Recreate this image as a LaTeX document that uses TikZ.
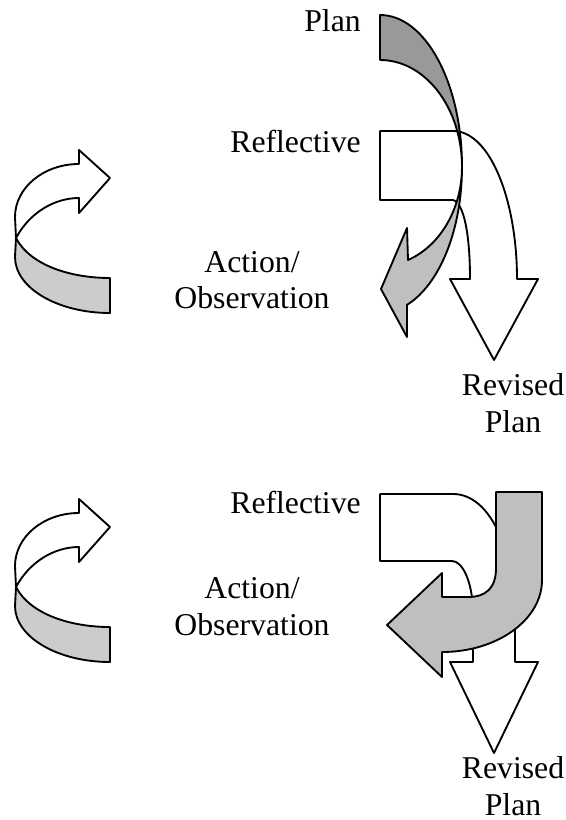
\documentclass[tikz,border=0pt]{standalone}
\usepackage{fontspec}
\setmainfont{Liberation Serif}
\definecolor{bandDark}{gray}{0.6}
\definecolor{bandLight}{gray}{0.75}
\definecolor{bandPale}{gray}{0.8}
\begin{document}
\begin{tikzpicture}[x=0.75pt,y=0.75pt,yscale=-1]
		\tikzstyle{band}=[draw=black,line width=1.4pt,line join=round]
		\tikzstyle{lbl}=[inner sep=0pt,font=\fontsize{23.8}{28}\selectfont]
		\useasboundingbox (0,0) rectangle (566,820);

		% labels
		\node[lbl,anchor=base east] (plan) at (361,32)  {Plan};
		\node[lbl,anchor=base east] (refl1) at (361,152) {Reflective};
		\node[lbl,anchor=base] (act1) at (252,272) {Action/};
		\node[lbl,anchor=base] (obs1) at (252,308) {Observation};
		\node[lbl,anchor=base] (rev1) at (513,395) {Revised};
		\node[lbl,anchor=base] (rplan1) at (513,432) {Plan};
		\node[lbl,anchor=base east] (refl2) at (361,513) {Reflective};
		\node[lbl,anchor=base] (act2) at (252,598) {Action/};
		\node[lbl,anchor=base] (obs2) at (252,635) {Observation};
		\node[lbl,anchor=base] (rev2) at (513,778) {Revised};
		\node[lbl,anchor=base] (rplan2) at (513,815) {Plan};

		% left curl arrows
		\foreach \dy in {0,349} {
		\begin{scope}[shift={(0,\dy)}]
		\path[band,fill=bandPale] (16,238) -- (15,257)
		  arc[start angle=180,end angle=90,x radius=95,y radius=56]
		  -- (110,278) .. controls (70,278) and (30,265) .. (16,238);
		\path[band,fill=white] (79,164)
		  arc[start angle=-90,end angle=-180,x radius=64,y radius=53]
		  -- (16,238) .. controls (30,212) and (55,198) .. (79,198)
		  -- (79,213) -- (110,178) -- (79,150) -- cycle;
		\end{scope}
		}

		% first cycle
		\path[band,fill=white] (380,131) -- (453,131)
		  .. controls (490,131) and (517,200) .. (517,279)
		  -- (538,279) -- (494,360) -- (450,279) -- (470,279)
		  .. controls (470,235) and (464,203) .. (453,200)
		  -- (380,200) -- cycle;
		\path[band,fill=bandLight] (462,167)
		  arc[start angle=0,end angle=70.8,x radius=82,y radius=146]
		  -- (407,337) -- (381,289) -- (407,228) -- (408,260)
		  arc[start angle=70,end angle=0,x radius=82,y radius=99] -- cycle;
		\path[band,fill=bandDark] (380,15)
		  arc[start angle=-90,end angle=0,x radius=82,y radius=152]
		  arc[start angle=0,end angle=-90,x radius=82,y radius=107] -- cycle;

		% second cycle
		\path[band,fill=white] (380,494) -- (453,494)
		  .. controls (490,494) and (515,550) .. (515,620)
		  -- (515,662) -- (538,662) -- (494,753) -- (450,662) -- (473,662)
		  -- (473,610) .. controls (472,580) and (462,561) .. (452,561)
		  -- (380,561) -- cycle;
		\path[band,fill=bandLight] (496,492) -- (542,492) -- (542,580)
		  arc[start angle=0,end angle=90,x radius=100,y radius=72]
		  -- (442,677) -- (387,625) -- (442,573) -- (442,597) -- (468,597)
		  .. controls (486,597) and (496,588) .. (496,568) -- cycle;
		\end{tikzpicture}
\end{document}
